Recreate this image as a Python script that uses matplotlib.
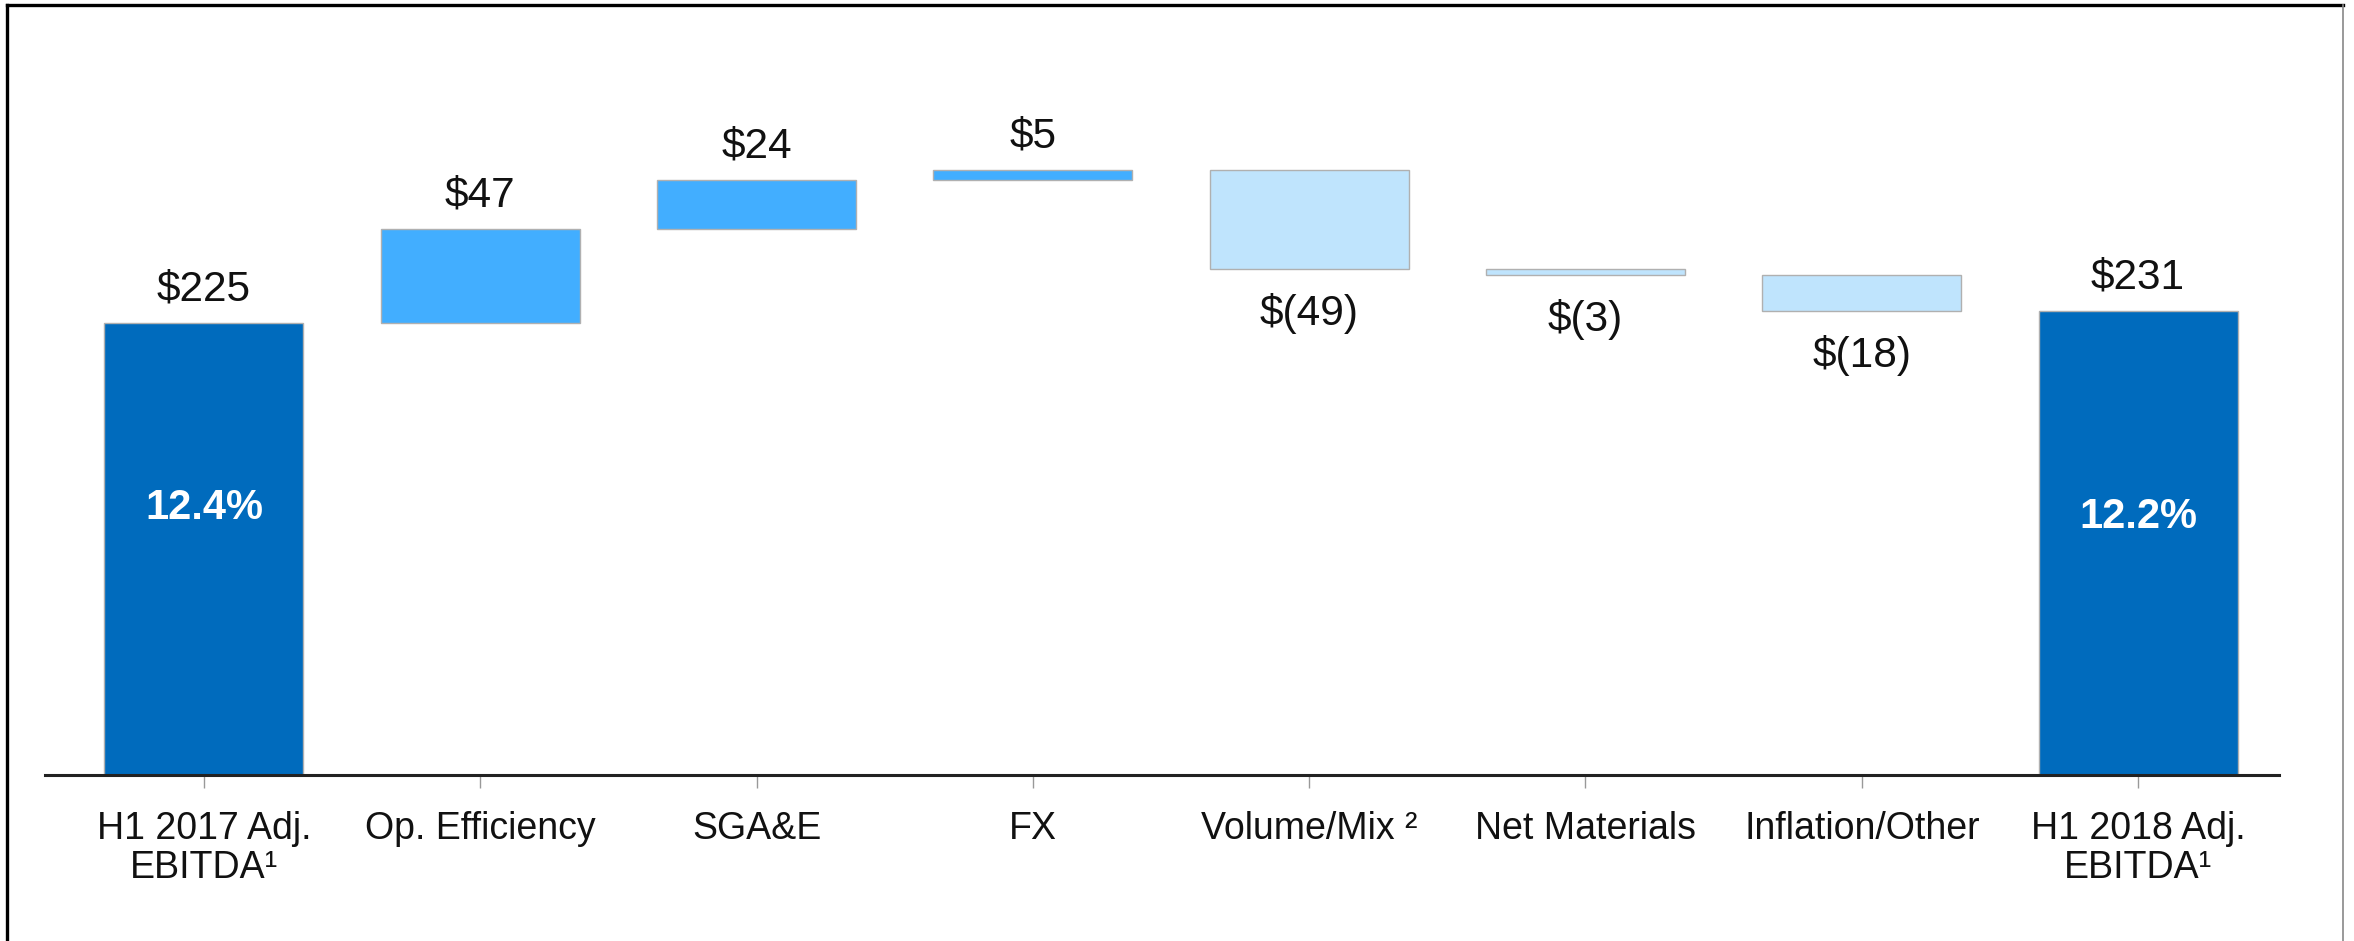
import matplotlib.pyplot as plt
from matplotlib.lines import Line2D

plt.rcParams['font.family'] = ['Liberation Sans', 'DejaVu Sans']

# 데이터
categories = ['H1 2017 Adj.\nEBITDA¹', 'Op. Efficiency', 'SGA&E', 'FX',
              'Volume/Mix ²', 'Net Materials', 'Inflation/Other',
              'H1 2018 Adj.\nEBITDA¹']
start_value = 225
deltas = [47, 24, 5, -49, -3, -18]
end_value = 231
margins = ['12.4%', '12.2%']

dark = '#006BBD'
mid = '#42AEFF'
light = '#BFE4FD'

# 워터폴 막대 계산
bottoms = [0]
heights = [start_value]
colors = [dark]
running = start_value
for d in deltas:
    if d >= 0:
        bottoms.append(running)
        colors.append(mid)
    else:
        bottoms.append(running + d)
        colors.append(light)
    heights.append(abs(d))
    running += d
bottoms.append(0)
heights.append(end_value)
colors.append(dark)

labels = [f'${start_value}'] + [f'${d}' if d >= 0 else f'$({-d})' for d in deltas] + [f'${end_value}']

fig = plt.figure(figsize=(23.54, 9.41), dpi=100)
ax = fig.add_axes([45 / 2354, 0.1764, (2279 - 45) / 2354, 0.7917])

x = range(len(categories))
ax.bar(x, heights, bottom=bottoms, width=0.72, color=colors,
       edgecolor='#B0B0B0', linewidth=1.0)

# 값 라벨
for i, (b, h, lab) in enumerate(zip(bottoms, heights, labels)):
    is_neg = 0 < i < len(categories) - 1 and deltas[i - 1] < 0
    if is_neg:
        ax.annotate(lab, (i, b), xytext=(0, -32), textcoords='offset points',
                    ha='center', va='center', fontsize=30.5, color='#111111')
    else:
        ax.annotate(lab, (i, b + h), xytext=(0, 24), textcoords='offset points',
                    ha='center', va='center', fontsize=30.5, color='#111111')

# 마진 (%) 라벨
ax.text(0, start_value * 0.59, margins[0], ha='center', va='center',
        fontsize=30, fontweight='bold', color='white')
ax.text(len(categories) - 1, end_value * 0.555, margins[1], ha='center', va='center',
        fontsize=30, fontweight='bold', color='white')

ax.set_xlim(-0.575, 7.51)
ax.set_ylim(0, 370.8)
ax.set_xticks(list(x))
ax.set_xticklabels(categories, fontsize=27, linespacing=1.12, color='#111111')
ax.tick_params(axis='x', length=9, width=1, color='#999999', pad=17)
ax.set_yticks([])
for s in ['left', 'top', 'right']:
    ax.spines[s].set_visible(False)
ax.spines['bottom'].set_linewidth(2.2)
ax.spines['bottom'].set_color('#222222')

# 바깥 테두리
fig.add_artist(Line2D([0.003, 0.003], [0, 0.995], transform=fig.transFigure, color='black', lw=2.4))
fig.add_artist(Line2D([0.003, 0.9955], [0.995, 0.995], transform=fig.transFigure, color='black', lw=2.4))
fig.add_artist(Line2D([0.9955, 0.9955], [0, 0.995], transform=fig.transFigure, color='#888888', lw=1.2))

fig.savefig('out.png', dpi=100)
